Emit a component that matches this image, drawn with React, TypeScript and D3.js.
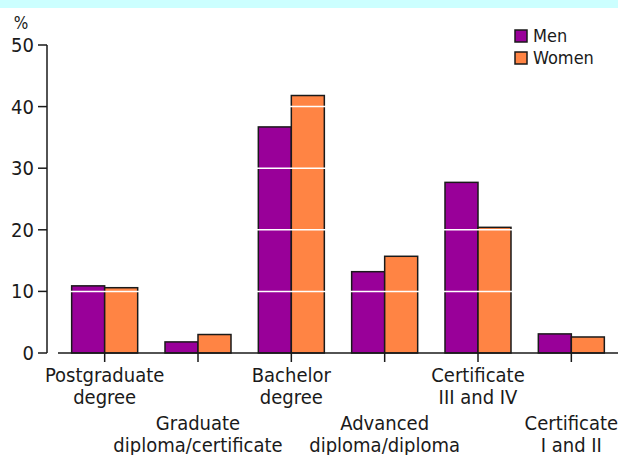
import React from "react";
import * as d3 from "d3";

const categories: string[][] = [
  ["Postgraduate", "degree"],
  ["Graduate", "diploma/certificate"],
  ["Bachelor", "degree"],
  ["Advanced", "diploma/diploma"],
  ["Certificate", "III and IV"],
  ["Certificate", "I and II"],
];
const men = [10.9, 1.8, 36.7, 13.2, 27.7, 3.1];
const women = [10.6, 3.0, 41.8, 15.7, 20.4, 2.6];
const seriesNames = ["Men", "Women"];
const seriesColors = ["#990099", "#ff8444"];
const yTicks = [0, 10, 20, 30, 40, 50];
const gridTicks = [10, 20, 30, 40];

const W = 618;
const H = 455;
const FONT = "'DejaVu Sans Condensed', 'DejaVu Sans', sans-serif";

export default function App() {
  const y = d3.scaleLinear().domain([0, 50]).range([353, 45]);
  const x0 = d3
    .scaleBand<number>()
    .domain(categories.map((_, i) => i))
    .range([58, 618])
    .padding(0);
  const x1 = d3
    .scaleBand<string>()
    .domain(seriesNames)
    .range([0, x0.bandwidth()])
    .paddingInner(0)
    .paddingOuter(0.414);
  const values = [men, women];
  const axisX = 47;

  return (
    <svg
      width={W}
      height={H}
      style={{ position: "absolute", left: 0, top: 0, background: "#fff" }}
      fontFamily={FONT}
    >
      <rect x={0} y={0} width={W} height={8} fill="#ccffff" />
      {/* bars */}
      {categories.map((_, i) =>
        seriesNames.map((s, si) => {
          const v = values[si][i];
          return (
            <rect
              key={`${i}-${s}`}
              x={(x0(i) ?? 0) + (x1(s) ?? 0)}
              y={y(v)}
              width={x1.bandwidth()}
              height={y(0) - y(v)}
              fill={seriesColors[si]}
              stroke="#1a1a1a"
              strokeWidth={1.5}
            />
          );
        })
      )}
      {/* white gridlines */}
      {gridTicks.map((t) => (
        <line
          key={t}
          x1={58}
          x2={618}
          y1={y(t)}
          y2={y(t)}
          stroke="#ffffff"
          strokeWidth={1.5}
        />
      ))}
      {/* y axis */}
      <line x1={axisX} x2={axisX} y1={y(50)} y2={y(0)} stroke="#1a1a1a" strokeWidth={1.5} />
      {yTicks.map((t) => (
        <g key={t}>
          <line x1={38} x2={axisX} y1={y(t)} y2={y(t)} stroke="#1a1a1a" strokeWidth={1.5} />
          <text x={34} y={y(t) + 7} textAnchor="end" fontSize={20} fill="#1a1a1a">
            {t}
          </text>
        </g>
      ))}
      <text x={21} y={29} textAnchor="middle" fontSize={17} fill="#1a1a1a">
        %
      </text>
      {/* x axis */}
      <line x1={58} x2={618} y1={y(0)} y2={y(0)} stroke="#1a1a1a" strokeWidth={1.5} />
      {categories.map((lines, i) => {
        const cx = (x0(i) ?? 0) + x0.bandwidth() / 2;
        const base = i % 2 === 0 ? 382 : 430;
        return (
          <g key={i}>
            <line x1={cx} x2={cx} y1={y(0)} y2={y(0) + 9} stroke="#1a1a1a" strokeWidth={1.5} />
            {lines.map((l, li) => (
              <text
                key={li}
                x={cx}
                y={base + li * 22}
                textAnchor="middle"
                fontSize={20}
                fill="#1a1a1a"
              >
                {l}
              </text>
            ))}
          </g>
        );
      })}
      {/* legend */}
      {seriesNames.map((s, si) => (
        <g key={s}>
          <rect
            x={515}
            y={30 + si * 22}
            width={12}
            height={12}
            fill={seriesColors[si]}
            stroke="#1a1a1a"
            strokeWidth={1.5}
          />
          <text x={533} y={42 + si * 22} fontSize={18} fill="#1a1a1a">
            {s}
          </text>
        </g>
      ))}
    </svg>
  );
}
